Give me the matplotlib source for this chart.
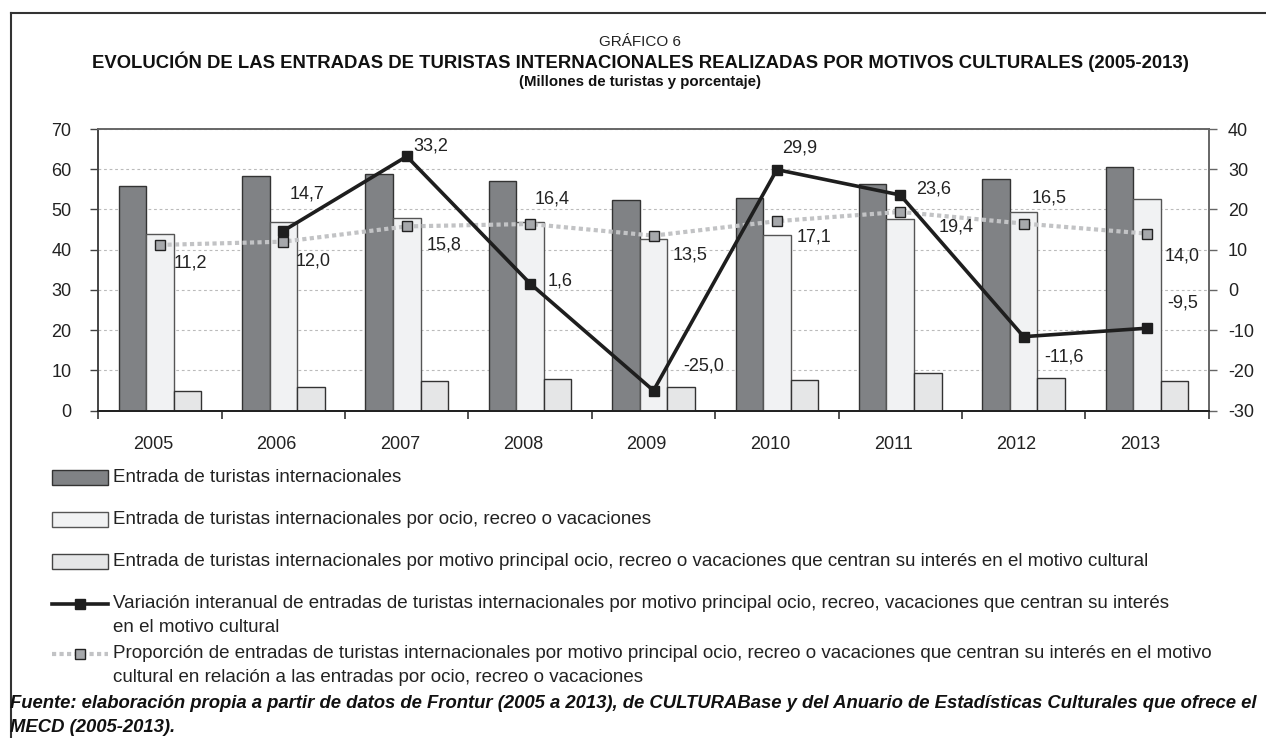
import matplotlib
matplotlib.use("Agg")
import matplotlib.pyplot as plt
from matplotlib.patches import Rectangle
from matplotlib.lines import Line2D
from matplotlib.transforms import ScaledTranslation
import numpy as np

plt.rcParams['font.family'] = ['Liberation Sans', 'DejaVu Sans']

years = ['2005', '2006', '2007', '2008', '2009', '2010', '2011', '2012', '2013']
entradas_total = [55.9, 58.2, 58.8, 57.2, 52.3, 52.8, 56.3, 57.5, 60.6]
entradas_ocio = [44.0, 47.0, 47.9, 47.0, 42.6, 43.7, 47.6, 49.3, 52.6]
entradas_cultural = [4.9, 5.8, 7.5, 7.8, 5.8, 7.6, 9.3, 8.2, 7.4]
variacion_years = ['2006', '2007', '2008', '2009', '2010', '2011', '2012', '2013']
variacion = [14.7, 33.2, 1.6, -25.0, 29.9, 23.6, -11.6, -9.5]
proporcion = [11.2, 12.0, 15.8, 16.4, 13.5, 17.1, 19.4, 16.5, 14.0]

left_ticks = [0, 10, 20, 30, 40, 50, 60, 70]
right_ticks = [-30, -20, -10, 0, 10, 20, 30, 40]

W, H = 1266, 738
fig = plt.figure(figsize=(W / 100, H / 100), dpi=100)

def fx(x):
    return x / W

def fy(y):
    return 1 - y / H

ax = fig.add_axes([fx(98.3), fy(410.7), fx(1208.7) - fx(98.3), fy(129) - fy(410.7)])
ax2 = ax.twinx()

x = np.arange(len(years))
bw = 0.223
c_dark, c_light, c_mid = '#808285', '#f1f2f3', '#e5e6e7'
ax.bar(x - bw, entradas_total, bw, color=c_dark, edgecolor='#333333', linewidth=1.0, zorder=3)
ax.bar(x, entradas_ocio, bw, color=c_light, edgecolor='#555555', linewidth=1.0, zorder=3)
ax.bar(x + bw, entradas_cultural, bw, color=c_mid, edgecolor='#333333', linewidth=1.0, zorder=3)

ax.set_xlim(-0.5, len(years) - 0.5)
ax.set_ylim(0, 70)
ax.set_yticks(left_ticks)
ax.set_yticklabels([str(t) for t in left_ticks])
ax.grid(axis='y', linestyle=(0, (2.5, 2.5)), color='#bbbbbb', linewidth=0.8, zorder=0)
ax.set_axisbelow(True)

ax2.set_ylim(-30, 40)
ax2.set_yticks(right_ticks)
ax2.set_yticklabels([str(t) for t in right_ticks])

TICK_FS = 13
ax.set_xticks(x)
ax.set_xticklabels(years)
ax.set_xticks(np.arange(-0.5, len(years), 1.0), minor=True)
ax.tick_params(axis='x', which='major', length=0, pad=18, labelsize=TICK_FS, colors='#222222')
ax.tick_params(axis='x', which='minor', length=5.8, width=1.2, color='#333333', direction='out')
offset = ScaledTranslation(-7 / 100, 0, fig.dpi_scale_trans)
for lab in ax.get_xticklabels():
    lab.set_transform(lab.get_transform() + offset)

ax.tick_params(axis='y', length=5.8, width=1.0, pad=13.5, labelsize=TICK_FS, colors='#222222', color='#444444')
ax2.tick_params(axis='y', length=5.8, width=1.0, pad=8, labelsize=TICK_FS, colors='#222222', color='#666666')

for a in (ax, ax2):
    a.spines['top'].set_color('#666666')
    a.spines['top'].set_linewidth(1.2)
    a.spines['left'].set_color('#444444')
    a.spines['left'].set_linewidth(1.2)
    a.spines['right'].set_color('#666666')
    a.spines['right'].set_linewidth(1.2)
    a.spines['bottom'].set_color('#222222')
    a.spines['bottom'].set_linewidth(1.4)

xi_var = [years.index(y) for y in variacion_years]
ax2.plot(x, proporcion, linestyle=(0, (1, 0.8)), color='#c2c3c5', linewidth=3.0,
         marker='s', markersize=6.5, markerfacecolor='#a6a8ab', markeredgecolor='#222222',
         markeredgewidth=1.0, zorder=4)
ax2.plot(xi_var, variacion, color='#1e1e1e', linewidth=2.6, marker='s', markersize=7.5,
         markerfacecolor='#1e1e1e', markeredgecolor='#1e1e1e', zorder=5)

prop_off = [(30, 18), (30, 19), (37, 19), (22, -25), (37, 19), (37, 16), (56, 15), (25, -26), (35, 22)]
var_off = [(24, -37), (24, -10), (30, -3), (50, -25), (23, -22), (33, -6), (40, 20), (36, -25)]

def fmt(v):
    return f"{v:.1f}".replace('.', ',')

LAB_FS = 13
for xi, v, (dx, dy) in zip(x, proporcion, prop_off):
    ax2.annotate(fmt(v), (xi, v), xytext=(dx, -dy), textcoords='offset pixels',
                 ha='center', va='center', fontsize=LAB_FS, color='#222222', zorder=6)
for xi, v, (dx, dy) in zip(xi_var, variacion, var_off):
    ax2.annotate(fmt(v), (xi, v), xytext=(dx, -dy), textcoords='offset pixels',
                 ha='center', va='center', fontsize=LAB_FS, color='#222222', zorder=6)

fig.add_artist(Line2D([fx(11), fx(11)], [fy(13), 0], color='#333333', linewidth=1.5, transform=fig.transFigure))
fig.add_artist(Line2D([fx(11), 1], [fy(13), fy(13)], color='#333333', linewidth=1.5, transform=fig.transFigure))

tx = fx(640)
fig.text(tx, fy(42), 'GRÁFICO 6', ha='center', va='center', fontsize=11, color='#222222')
fig.text(tx, fy(62), 'EVOLUCIÓN DE LAS ENTRADAS DE TURISTAS INTERNACIONALES REALIZADAS POR MOTIVOS CULTURALES (2005-2013)',
         ha='center', va='center', fontsize=13.3, fontweight='bold', color='#111111')
fig.text(tx, fy(82), '(Millones de turistas y porcentaje)', ha='center', va='center',
         fontsize=10.8, fontweight='bold', color='#111111')

lx0, lx1, tx0 = 51.7, 108.3, 113.3
LEG_FS = 13.5
legend_labels = [
    'Entrada de turistas internacionales',
    'Entrada de turistas internacionales por ocio, recreo o vacaciones',
    'Entrada de turistas internacionales por motivo principal ocio, recreo o vacaciones que centran su interés en el motivo cultural',
    'Variación interanual de entradas de turistas internacionales por motivo principal ocio, recreo, vacaciones que centran su interés',
    'Proporción de entradas de turistas internacionales por motivo principal ocio, recreo o vacaciones que centran su interés en el motivo',
]
legend_second = [None, None, None, 'en el motivo cultural', 'cultural en relación a las entradas por ocio, recreo o vacaciones']
ly = [477, 519, 561, 604, 654]
patch_styles = [(c_dark, '#333333'), (c_light, '#555555'), (c_mid, '#444444')]
for i in range(3):
    fig.add_artist(Rectangle((fx(lx0), fy(ly[i] + 7.5)), fx(lx1) - fx(lx0), fy(ly[i] - 7.5) - fy(ly[i] + 7.5),
                             facecolor=patch_styles[i][0], edgecolor=patch_styles[i][1], linewidth=1.0,
                             transform=fig.transFigure))
fig.add_artist(Line2D([fx(lx0), fx(lx1)], [fy(ly[3]), fy(ly[3])], color='#1e1e1e', linewidth=2.6,
                      transform=fig.transFigure))
fig.add_artist(Line2D([fx(80)], [fy(ly[3])], marker='s', markersize=7.5, color='#1e1e1e',
                      transform=fig.transFigure))
fig.add_artist(Line2D([fx(lx0), fx(lx1)], [fy(ly[4]), fy(ly[4])], linestyle=(0, (1, 0.8)), color='#c2c3c5',
                      linewidth=3.0, transform=fig.transFigure))
fig.add_artist(Line2D([fx(80)], [fy(ly[4])], marker='s', markersize=6.5, markerfacecolor='#a6a8ab',
                      markeredgecolor='#222222', markeredgewidth=1.0, transform=fig.transFigure))
for i, lab in enumerate(legend_labels):
    fig.text(fx(tx0), fy(ly[i]), lab, ha='left', va='center', fontsize=LEG_FS, color='#222222')
    if legend_second[i]:
        fig.text(fx(tx0), fy(ly[i] + 24), legend_second[i], ha='left', va='center', fontsize=LEG_FS, color='#222222')

SRC_FS = 13.3
fig.text(fx(10), fy(704), 'Fuente: elaboración propia a partir de datos de Frontur (2005 a 2013), de CULTURABase y del Anuario de Estadísticas Culturales que ofrece el',
         ha='left', va='center', fontsize=SRC_FS, fontweight='bold', fontstyle='italic', color='#111111')
fig.text(fx(10), fy(727), 'MECD (2005-2013).', ha='left', va='center', fontsize=SRC_FS, fontweight='bold',
         fontstyle='italic', color='#111111')

fig.savefig('out.png', dpi=100)
